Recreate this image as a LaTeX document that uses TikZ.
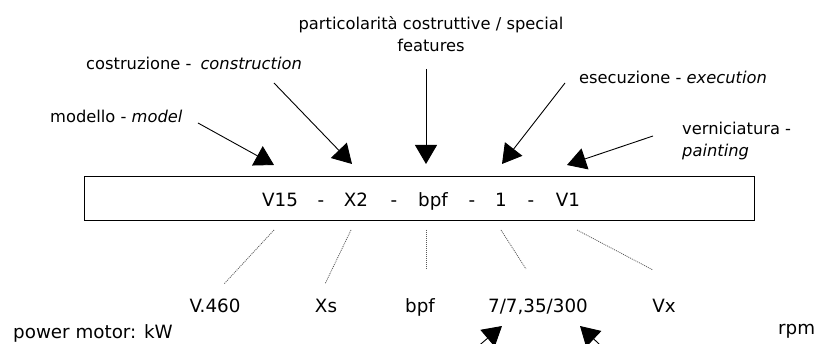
\documentclass[tikz,border=0pt]{standalone}
\usepackage{fontspec}
\setmainfont{DejaVu Sans}
\usetikzlibrary{arrows.meta}

\tikzset{
  lbl/.style={inner sep=0pt, font=\fontsize{16.3}{22}\selectfont},
  val/.style={inner sep=0pt, font=\fontsize{18.3}{22}\selectfont},
  pointer/.style={line width=0.9pt, -{Triangle[length=19pt,width=22pt]}},
  codebox/.style={draw, line width=1.3pt, inner sep=0pt},
  guide/.style={line width=0.8pt, gray!70!black, dash pattern=on 1pt off 1pt}
}

\begin{document}
\begin{tikzpicture}[x=1pt,y=-1pt]
  \path[use as bounding box] (0,0) rectangle (815,344);
  \clip (0,0) rectangle (815,344);

  % code box
  \node[codebox, minimum width=670pt, minimum height=44pt, anchor=north west] (box) at (84,176) {};

  % code tokens
  \node[val, anchor=base] (c1) at (280,207) {V15};
  \node[val, anchor=base] (d1) at (321,207) {-};
  \node[val, anchor=base] (c2) at (356,207) {X2};
  \node[val, anchor=base] (d2) at (394,207) {-};
  \node[val, anchor=base] (c3) at (433,207) {bpf};
  \node[val, anchor=base] (d3) at (472,207) {-};
  \node[val, anchor=base] (c4) at (501,207) {1};
  \node[val, anchor=base] (d4) at (531,207) {-};
  \node[val, anchor=base] (c5) at (568,207) {V1};

  % labels above (multi-line nodes: base is the last line)
  \node[lbl, anchor=base west] (model) at (50,123) {modello - \textit{model}};
  \node[lbl, anchor=base west] (constr) at (86,70) {costruzione -\hspace{9pt}\textit{construction}};
  \node[lbl, anchor=base, align=center] (special) at (431,52)
    {particolarità costruttive / special\\features};
  \node[lbl, anchor=base west, align=left] (paint) at (682,157)
    {verniciatura -\\\textit{painting}};
  \node[lbl, anchor=base west] (exec) at (579,84) {esecuzione - \textit{execution}};

  % arrow ends
  \coordinate (tModel) at (198,123);  \coordinate (hModel) at (274,165);
  \coordinate (tConstr) at (274,83);  \coordinate (hConstr) at (352,164);
  \coordinate (tSpecial) at (426,69); \coordinate (hSpecial) at (426,164);
  \coordinate (tExec) at (565,83);    \coordinate (hExec) at (502,164);
  \coordinate (tPaint) at (653,136);  \coordinate (hPaint) at (567,165);

  \draw[pointer] (tModel) -- (hModel);
  \draw[pointer] (tConstr) -- (hConstr);
  \draw[pointer] (tSpecial) -- (hSpecial);
  \draw[pointer] (tExec) -- (hExec);
  \draw[pointer] (tPaint) -- (hPaint);

  % example values below
  \node[val, anchor=base] (v1) at (215,313) {V.460};
  \node[val, anchor=base] (v2) at (326,313) {Xs};
  \node[val, anchor=base] (v3) at (420,313) {bpf};
  \node[val, anchor=base] (v4) at (538,313) {7/7,35/300};
  \node[val, anchor=base] (v5) at (664,313) {Vx};

  \node[val, anchor=base west] (kw) at (13,339) {power motor: kW};
  \node[val, anchor=base west] (rpm) at (778,335) {rpm};

  % dotted guides between code and values
  \coordinate (g1a) at (274,230); \coordinate (g1b) at (224,284);
  \coordinate (g2a) at (351,230); \coordinate (g2b) at (325,284);
  \coordinate (g3a) at (426,230); \coordinate (g3b) at (426,270);
  \coordinate (g4a) at (501,230); \coordinate (g4b) at (526,269);
  \coordinate (g5a) at (577,230); \coordinate (g5b) at (653,270);
  \draw[guide] (g1a) -- (g1b);
  \draw[guide] (g2a) -- (g2b);
  \draw[guide] (g3a) -- (g3b);
  \draw[guide] (g4a) -- (g4b);
  \draw[guide] (g5a) -- (g5b);

  % power and speed pointers
  \coordinate (tKw) at (462,360);  \coordinate (hKw) at (502,326);
  \coordinate (tRpm) at (616,360); \coordinate (hRpm) at (580,326);
  \draw[pointer] (tKw) -- (hKw);
  \draw[pointer] (tRpm) -- (hRpm);
\end{tikzpicture}
\end{document}
